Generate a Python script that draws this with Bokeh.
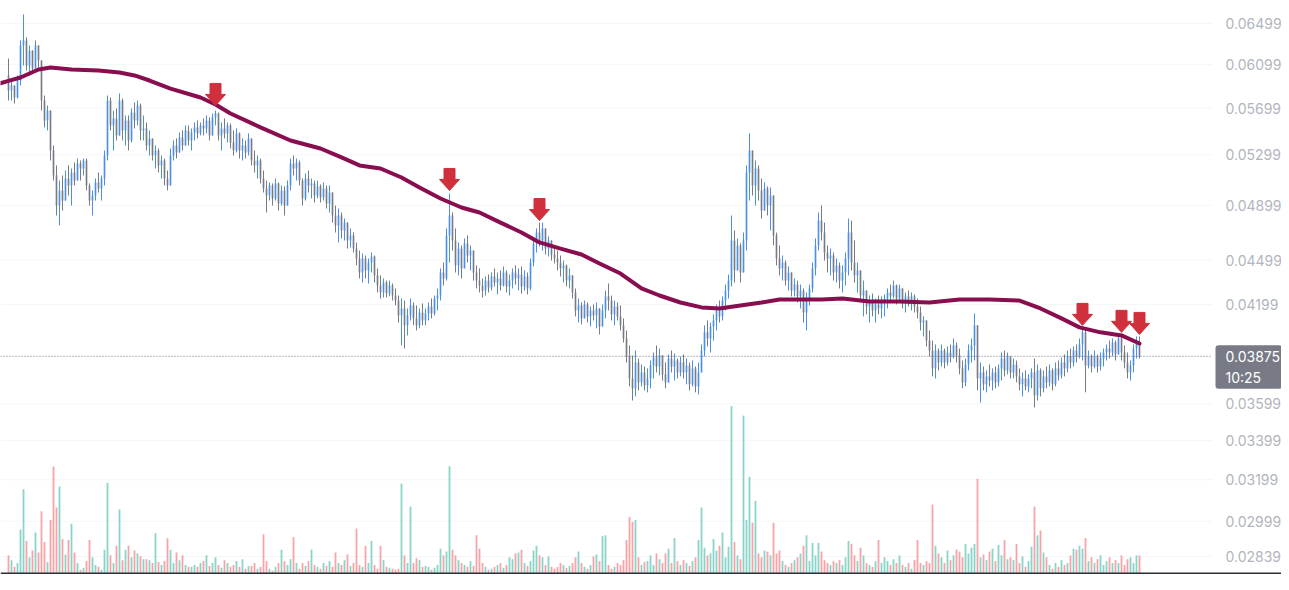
import numpy as np
from bokeh.plotting import figure
from bokeh.models import Range1d, LinearScale, Label, ColumnDataSource
from bokeh.core.properties import value
from bokeh.embed import file_html
from bokeh.resources import INLINE

# ---------------- data (prices in units of 0.00001) ----------------
first_open = 5995

closes = [
5856,5902,5793,5948,6281,6330,6089,6232,6060,6281,
6136,5766,5590,5677,5335,5132,4898,5014,4936,5108,
5053,5156,5092,5229,5188,5253,5053,4936,4975,5077,
5030,5108,5294,5766,5547,5608,5462,5766,5504,5590,
5419,5660,5590,5721,5504,5521,5377,5436,5294,5335,
5213,5253,5108,5053,5294,5377,5319,5445,5377,5504,
5419,5487,5530,5479,5547,5521,5590,5462,5616,5651,
5462,5521,5479,5547,5402,5335,5479,5335,5377,5319,
5436,5253,5213,5253,5108,5030,4975,5053,4952,5069,
4913,5014,4898,5053,5229,5188,5237,5092,4952,5108,
5053,5069,4975,5046,4959,5030,4913,4998,4823,4749,
4823,4712,4770,4639,4676,4581,4511,4414,4511,4428,
4483,4525,4394,4326,4279,4346,4272,4326,4259,4226,
4129,4174,4066,4129,4194,4110,4066,4148,4097,4142,
4187,4142,4239,4259,4414,4373,4676,4823,4639,4463,
4581,4442,4618,4532,4567,4414,4359,4326,4292,4359,
4312,4387,4346,4373,4326,4414,4319,4359,4414,4373,
4400,4319,4387,4306,4483,4618,4697,4639,4727,4581,
4639,4539,4511,4483,4442,4463,4359,4394,4279,4161,
4194,4110,4200,4123,4161,4129,4174,4059,4161,4253,
4226,4136,4187,4123,4066,3984,3874,3744,3687,3838,
3721,3779,3704,3744,3820,3868,3814,3880,3768,3721,
3862,3814,3850,3779,3838,3779,3820,3710,3803,3698,
3779,3910,4022,3984,4059,4097,4161,4123,4226,4292,
4359,4639,4428,4603,4414,4639,5156,5335,5053,5188,
5014,4860,5030,4898,4975,4676,4511,4442,4483,4359,
4414,4292,4332,4253,4292,4148,4226,4306,4442,4603,
4785,4697,4553,4511,4532,4414,4463,4359,4414,4511,
4697,4483,4394,4428,4259,4292,4187,4226,4161,4200,
4174,4226,4239,4279,4253,4326,4239,4306,4213,4253,
4213,4253,4187,4148,4084,4097,3971,3910,3803,3910,
3838,3910,3838,3898,3874,3941,3880,3803,3721,3826,
3910,3941,4066,3744,3779,3710,3756,3732,3779,3721,
3803,3862,3791,3874,3779,3826,3756,3710,3744,3698,
3744,3779,3647,3791,3687,3756,3721,3791,3710,3803,
3762,3838,3803,3874,3838,3910,3874,3947,4022,3820,
3874,3814,3874,3814,3862,3898,3922,3898,3959,3886,
3984,3898,3838,3779,3820,3922,3959,3875]

highs = [
6155,5948,5902,5995,6330,6591,6360,6281,6232,6330,
6281,6136,5811,5721,5677,5377,5213,5092,5132,5172,
5213,5188,5237,5269,5253,5269,5269,5069,5014,5108,
5156,5132,5335,5811,5793,5677,5695,5829,5784,5634,
5634,5695,5748,5766,5739,5634,5573,5504,5436,5377,
5352,5294,5269,5172,5352,5419,5436,5487,5504,5547,
5547,5521,5573,5590,5573,5608,5634,5616,5651,5677,
5660,5573,5608,5573,5564,5504,5521,5487,5436,5419,
5479,5419,5335,5294,5269,5172,5092,5077,5069,5108,
5077,5053,5046,5092,5269,5294,5269,5253,5108,5148,
5172,5108,5092,5092,5061,5077,5053,5053,4998,4898,
4875,4845,4800,4770,4727,4697,4625,4567,4546,4532,
4511,4553,4532,4442,4394,4373,4359,4359,4339,4306,
4259,4239,4226,4174,4239,4213,4194,4174,4207,4174,
4213,4239,4259,4306,4442,4483,4727,4991,4845,4727,
4625,4603,4654,4676,4603,4567,4463,4442,4373,4387,
4400,4414,4442,4414,4428,4456,4428,4400,4442,4463,
4442,4456,4428,4414,4511,4654,4727,4770,4770,4727,
4668,4639,4596,4567,4532,4497,4469,4442,4387,4306,
4239,4213,4226,4213,4187,4200,4213,4174,4200,4292,
4339,4259,4226,4213,4194,4110,4034,3941,3880,3910,
3862,3826,3814,3803,3850,3898,3941,3922,3874,3838,
3886,3910,3892,3862,3874,3886,3862,3838,3850,3814,
3838,3947,4066,4097,4084,4136,4200,4226,4253,4332,
4400,4823,4712,4654,4618,4697,5213,5479,5335,5253,
5213,5108,5077,5046,5038,4975,4697,4603,4532,4497,
4456,4414,4373,4359,4332,4306,4279,4332,4483,4654,
4845,4898,4770,4603,4581,4553,4511,4483,4463,4553,
4800,4785,4639,4483,4414,4359,4292,4259,4272,4239,
4259,4253,4266,4306,4332,4359,4332,4332,4306,4279,
4292,4279,4266,4239,4187,4123,4084,4034,3971,3947,
3922,3947,3922,3935,3947,3984,3959,3922,3850,3862,
3947,3984,4142,4066,3838,3814,3791,3826,3803,3814,
3826,3898,3910,3898,3868,3862,3850,3803,3779,3791,
3768,3803,3862,3826,3803,3791,3814,3826,3803,3838,
3850,3868,3886,3910,3922,3935,3947,3984,4053,4047,
3910,3886,3910,3886,3898,3922,3947,3971,3984,3971,
4015,4015,3941,3898,3850,3947,3996,3996]

lows = [
5766,5766,5739,5784,5902,6089,6041,5995,6022,6060,
6070,5677,5530,5504,5253,5092,4823,4749,4860,4936,
4975,4898,5053,5092,5092,5132,5014,4898,4823,4936,
4998,4936,5053,5253,5504,5335,5419,5462,5419,5377,
5335,5402,5521,5547,5419,5419,5335,5294,5253,5188,
5156,5108,5053,5014,5092,5253,5269,5319,5335,5377,
5377,5335,5419,5436,5462,5462,5479,5419,5462,5547,
5419,5335,5436,5402,5352,5294,5319,5269,5253,5269,
5294,5213,5156,5108,5069,4998,4845,4936,4898,4936,
4860,4898,4823,4898,5014,5132,5092,5053,4898,4936,
4998,4952,4921,4952,4921,4936,4875,4845,4770,4697,
4625,4654,4639,4581,4589,4553,4463,4373,4346,4373,
4339,4414,4346,4279,4239,4246,4246,4253,4226,4194,
4084,3941,3922,4003,4097,4066,4034,4047,4066,4066,
4097,4110,4129,4161,4226,4326,4359,4483,4567,4414,
4394,4373,4442,4483,4428,4359,4306,4279,4246,4259,
4279,4292,4319,4266,4292,4319,4279,4259,4306,4332,
4292,4272,4292,4266,4292,4456,4553,4596,4567,4539,
4525,4497,4476,4428,4387,4346,4319,4306,4239,4123,
4084,4072,4110,4084,4059,4097,4047,4009,4066,4110,
4161,4097,4066,4097,4034,3959,3838,3698,3618,3641,
3675,3698,3675,3664,3687,3744,3779,3762,3732,3687,
3732,3779,3732,3744,3756,3744,3710,3675,3698,3664,
3652,3779,3874,3935,3898,3971,4034,4084,4097,4161,
4239,4319,4346,4442,4346,4428,4567,4936,4975,4898,
4936,4800,4860,4823,4712,4603,4463,4394,4359,4326,
4292,4253,4253,4213,4174,4084,4034,4194,4279,4394,
4567,4639,4497,4414,4394,4359,4346,4306,4279,4326,
4394,4428,4346,4279,4213,4123,4136,4084,4123,4084,
4136,4110,4123,4174,4213,4239,4200,4226,4174,4148,
4187,4161,4148,4110,4034,3996,3935,3874,3756,3744,
3791,3814,3803,3820,3838,3862,3838,3768,3687,3698,
3791,3838,3850,3675,3607,3675,3664,3698,3675,3687,
3698,3732,3756,3768,3744,3744,3721,3675,3641,3675,
3664,3687,3579,3618,3641,3664,3687,3698,3675,3698,
3732,3744,3756,3779,3803,3814,3838,3862,3850,3664,
3803,3779,3803,3779,3791,3814,3850,3862,3874,3850,
3886,3850,3803,3744,3732,3779,3862,3862]

# traded volume (thousands)
volumes = [
20,15,8,12,47,89,35,18,25,44,
23,66,34,13,57,113,70,92,37,21,
36,53,23,12,5,7,14,36,18,10,
8,5,26,96,20,12,30,68,15,26,
30,18,25,22,19,16,16,15,12,43,
13,10,14,38,26,12,23,15,20,10,
8,8,10,8,12,14,20,9,12,18,
10,7,15,12,8,10,14,8,16,6,
9,9,12,6,8,42,14,6,4,8,
12,26,14,10,16,39,12,6,12,9,
14,26,10,8,6,12,9,14,8,23,
12,10,15,21,9,12,48,10,8,30,
12,35,10,6,30,15,8,7,6,5,
6,95,20,12,71,12,17,15,8,9,
8,5,7,10,27,20,24,113,26,20,
15,12,10,8,14,9,41,27,12,8,
5,6,8,10,12,7,10,18,16,22,
23,26,12,9,14,25,30,20,18,10,
19,8,6,8,12,10,7,9,12,18,
24,12,8,6,10,19,21,14,40,41,
10,6,8,12,10,15,36,60,55,57,
18,10,13,14,20,10,22,16,12,22,
27,12,38,14,10,15,12,9,14,18,
36,70,28,20,22,37,25,30,44,18,
29,176,34,20,16,166,57,102,54,77,
22,18,25,24,20,54,22,25,14,10,
8,12,15,18,22,30,41,14,33,20,
33,24,15,12,10,14,12,15,10,18,
35,32,20,14,28,20,12,10,8,14,
36,12,18,14,10,16,12,20,10,8,
12,6,15,36,12,10,14,12,73,30,
22,18,12,25,15,20,26,24,18,32,
22,28,32,100,18,21,15,24,27,14,
31,20,36,16,18,15,32,12,19,8,
14,29,71,41,46,23,18,10,6,12,
8,15,10,12,20,27,26,30,27,38,
14,18,12,16,20,10,14,18,12,15,
12,20,10,16,18,12,20,20]

# moving average (candle index, value)
ma_idx = [-3,0,4,10,14,21,30,37,42,47,54,64,69,74,84,94,104,111,117,124,131,
          137,144,151,157,164,171,177,184,191,197,204,211,217,224,231,237,244,251,257,264,
          271,278,287,297,307,317,327,337,344,351,357,364,371,377]
ma_vals = [5920,5944,5976,6051,6070,6051,6041,6022,5995,5948,5874,5793,5730,5651,5530,5419,5352,5278,5213,5188,5116,
           5038,4952,4883,4845,4770,4697,4625,4581,4539,4476,4407,4306,4259,4213,4181,4174,4194,4213,4233,4233,
           4233,4239,4220,4220,4213,4233,4233,4226,4174,4110,4053,4022,4003,3953]

# sell-signal arrows (candle index, price of arrow tip)
arrow_idx = [69, 147, 177, 358, 371, 377]
arrow_tip = [5722, 5014, 4785, 4066, 4022, 4009]

last_price = 0.03875
last_time = "10:25"
tick_values = [0.06499, 0.06099, 0.05699, 0.05299, 0.04899, 0.04499, 0.04199,
               0.03599, 0.03399, 0.03199, 0.02999, 0.02839]

# ---------------- styling ----------------
UP_COL = "#4a90e8"
DN_COL = "#787b86"
VOL_UP = "#8ad4c8"
VOL_DN = "#f7a4a9"
MA_COL = "#880e4f"
ARROW_COL = "#d0303c"
LABEL_COL = "#b2b5be"
FONT = "Inter"

SCALE = 1e5
n = min(len(closes), len(highs), len(lows), len(volumes))
idx = np.arange(n)
c = np.array(closes[:n]) / SCALE
o = np.array([first_open] + closes[:n - 1]) / SCALE
h = np.maximum(np.array(highs[:n]) / SCALE, np.maximum(o, c))
l = np.minimum(np.array(lows[:n]) / SCALE, np.minimum(o, c))
up = c >= o

W, H = 1281, 574          # whole figure is the frame; price scale drawn inside
PX_X = 3.0                # pixels per candle
X0 = -8 / PX_X            # first candle 8 px from the left edge
X1 = X0 + W / PX_X
X_SCALE = X0 + 1212 / PX_X    # where the price-scale column starts
X_TEXT = X0 + 1225 / PX_X     # left edge of price-scale texts
X_BOX = X0 + 1215 / PX_X      # left edge of the last-price box
Y_TOP, Y_BOT = 0.067354, 0.027609
K = np.log(Y_TOP / Y_BOT) / H  # log-units per pixel
VOL_TOP = 600

p = figure(width=W, height=H, x_range=Range1d(X0, X1), y_range=Range1d(Y_BOT, Y_TOP),
           y_axis_type="log", x_axis_location=None, y_axis_location=None,
           output_backend="svg", toolbar_location=None,
           min_border_left=0, min_border_right=0, min_border_top=0, min_border_bottom=0)
p.outline_line_color = None
p.background_fill_color = "white"
p.border_fill_color = "white"
p.grid.visible = False

# horizontal grid lines at the price-scale levels
nt = len(tick_values)
p.segment(x0=[X0] * nt, y0=tick_values, x1=[X_SCALE] * nt, y1=tick_values,
          line_color="#f5f6f9", line_width=1)

# volume overlay
p.extra_y_ranges = {"vol": Range1d(0, VOL_TOP)}
p.extra_y_scales = {"vol": LinearScale()}
vsrc = ColumnDataSource(dict(x=idx, v=np.array(volumes[:n]),
                             color=np.where(up, VOL_UP, VOL_DN)))
p.vbar(x="x", top="v", bottom=0, width=0.6, fill_color="color", line_color=None,
       y_range_name="vol", source=vsrc)

# candles
src = ColumnDataSource(dict(x=idx, h=h, l=l, top=np.maximum(o, c), bot=np.minimum(o, c),
                            color=np.where(up, UP_COL, DN_COL)))
p.segment(x0="x", y0="l", x1="x", y1="h", line_color="color", line_width=1, source=src)
p.vbar(x="x", top="top", bottom="bot", width=0.55, fill_color="color", line_color=None, source=src)

# moving average
p.line(ma_idx, np.array(ma_vals) / SCALE, line_color=MA_COL, line_width=4,
       line_join="round", line_cap="round")

# last price dotted line
p.segment(x0=[X0], y0=[last_price], x1=[X_SCALE], y1=[last_price],
          line_color="#6f727d", line_dash="1 2", line_width=1)

# arrows (shape in pixels relative to the tip)
shape = [(0, 0), (-10, 11), (-5.5, 11), (-5.5, 22), (5.5, 22), (5.5, 11), (10, 11)]
axs, ays = [], []
for ai, tip in zip(arrow_idx, arrow_tip):
    axs.append([ai + dx / PX_X for dx, dy in shape])
    ays.append([tip / SCALE * np.exp(dy * K) for dx, dy in shape])
p.patches(axs, ays, fill_color=ARROW_COL, line_color=ARROW_COL, line_width=1)

# price-scale labels
p.text(x=[X_TEXT] * nt, y=tick_values, text=[f"{t:.5f}" for t in tick_values],
       text_font=value(FONT), text_font_size="14px", text_color=LABEL_COL,
       text_align="left", text_baseline="middle")

# bottom border line
p.segment(x0=[X0], y0=[Y_BOT * np.exp(1.0 * K)], x1=[X1], y1=[Y_BOT * np.exp(1.0 * K)],
          line_color="#2a2e39", line_width=2)

# price label on the scale
p.add_layout(Label(x=X_BOX, y=last_price * np.exp(11 * K),
                   text=f"{last_price:.5f}\n{last_time}",
                   text_font=FONT, text_font_size="14px", text_color="#ffffff",
                   text_align="left", text_baseline="top", text_line_height=1.2,
                   background_fill_color="#787b86",
                   padding=dict(left=10, right=2, top=3, bottom=3), border_radius=3))

open("out.html", "w").write(file_html(p, INLINE, title="chart"))
